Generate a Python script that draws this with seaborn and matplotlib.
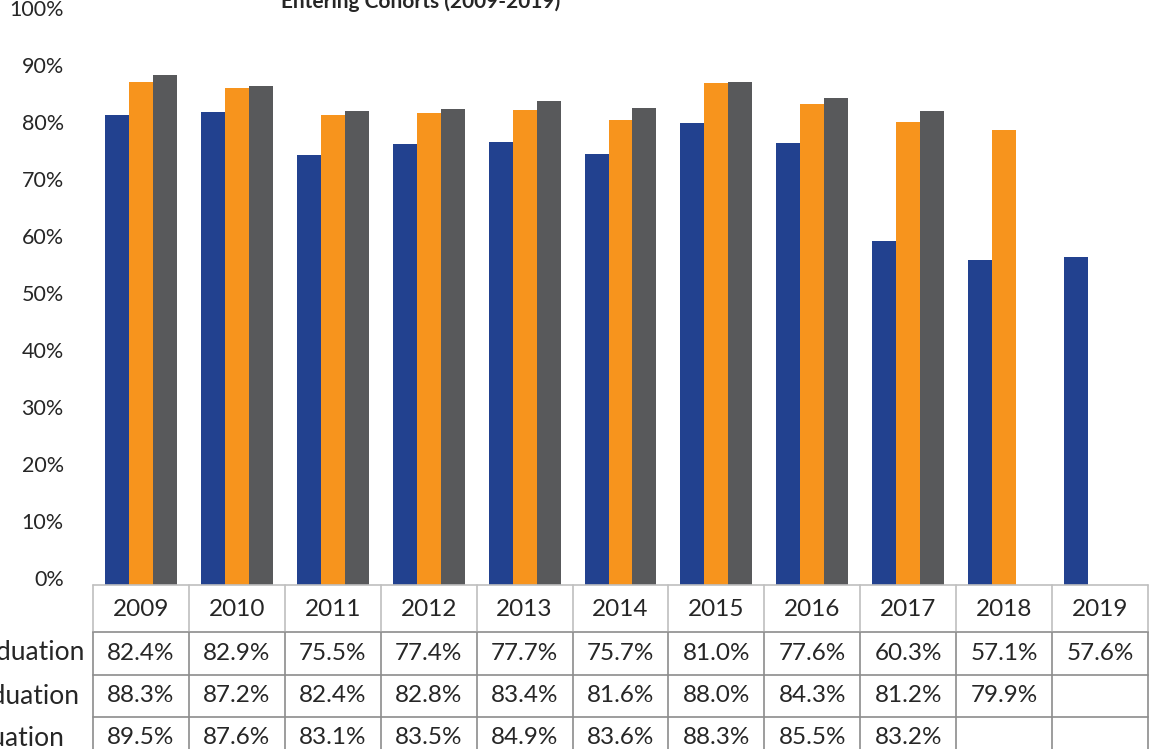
import matplotlib
matplotlib.use("Agg")
import matplotlib.pyplot as plt
import matplotlib.transforms as mtransforms
import seaborn as sns
import pandas as pd
import numpy as np

# Entering cohorts and graduation rates (%)
years = ["2009", "2010", "2011", "2012", "2013", "2014", "2015", "2016", "2017", "2018", "2019"]
series_names = ["Four-Year Graduation", "Five-Year Graduation", "Six-Year Graduation"]
four_year = [82.4, 82.9, 75.5, 77.4, 77.7, 75.7, 81.0, 77.6, 60.3, 57.1, 57.6]
five_year = [88.3, 87.2, 82.4, 82.8, 83.4, 81.6, 88.0, 84.3, 81.2, 79.9, np.nan]
six_year = [89.5, 87.6, 83.1, 83.5, 84.9, 83.6, 88.3, 85.5, 83.2, np.nan, np.nan]
colors = ["#22418F", "#F7941D", "#58595B"]
title_line = "Entering Cohorts (2009-2019)"

W, H = 1153, 749
sns.set_style("white")
plt.rcParams["font.family"] = ["Lato", "DejaVu Sans"]

df = pd.DataFrame({
    "cohort": years * 3,
    "series": np.repeat(series_names, len(years)),
    "rate": four_year + five_year + six_year,
}).dropna()

fig = plt.figure(figsize=(W / 100, H / 100), dpi=100)
ax = fig.add_axes([93 / W, 1 - 585 / H, 1055 / W, 570 / H])

sns.barplot(data=df, x="cohort", y="rate", hue="series", order=years,
            hue_order=series_names, palette=colors, saturation=1,
            width=0.75, linewidth=0, legend=False, ax=ax)

ax.set_xlim(-0.5, len(years) - 0.5)
ax.set_ylim(0, 100)
ax.set_yticks(np.arange(0, 101, 10))
ax.set_yticklabels([f"{v}%" for v in range(0, 101, 10)], fontsize=15.5)
ax.set_xticks([])
ax.set_xlabel("")
ax.set_ylabel("")
ax.tick_params(axis="y", length=0, pad=21)
offset = mtransforms.ScaledTranslation(0, 0.07, fig.dpi_scale_trans)
for lab in ax.get_yticklabels():
    lab.set_transform(lab.get_transform() + offset)
for side in ["left", "right", "top", "bottom"]:
    ax.spines[side].set_visible(False)

# data table below the plot
trans = mtransforms.blended_transform_factory(ax.transData, fig.transFigure)
row_edges = [585, 632, 675, 717, 760]
light, dark = "#BFBFBF", "#8C8C8C"

def fy(py):
    return 1 - py / H

n = len(years)
ax.plot([-0.5, n - 0.5], [fy(585)] * 2, transform=trans, color=light, lw=1.2, clip_on=False)
for py in row_edges[1:4]:
    ax.plot([-0.5, n - 0.5], [fy(py)] * 2, transform=trans, color=dark, lw=1.2, clip_on=False)
for i in range(n + 1):
    xv = i - 0.5
    ax.plot([xv, xv], [fy(585), fy(632)], transform=trans, color=light, lw=1.2, clip_on=False)
    ax.plot([xv, xv], [fy(632), fy(760)], transform=trans, color=dark, lw=1.2, clip_on=False)

cell_size = 17.5
for i, yr in enumerate(years):
    ax.text(i, fy(609), yr, transform=trans, ha="center", va="center", fontsize=cell_size)

rows = [four_year, five_year, six_year]
row_centers = [653, 696, 738]
for vals, yc in zip(rows, row_centers):
    for i, v in enumerate(vals):
        if not np.isnan(v):
            ax.text(i, fy(yc), f"{v:.1f}%", transform=trans, ha="center", va="center",
                    fontsize=cell_size)

# row labels, left-aligned and running off the left edge
labels = []
for name, yc in zip(series_names, row_centers):
    labels.append(fig.text(0, fy(yc), name, ha="left", va="center", fontsize=19))
fig.canvas.draw()
w1 = labels[0].get_window_extent().width
for t in labels:
    t.set_x((84 - w1) / W)

fig.text(421 / W, fy(8), title_line, ha="center", va="baseline",
         fontsize=15, fontweight="bold")

fig.savefig("out.png", dpi=100)
